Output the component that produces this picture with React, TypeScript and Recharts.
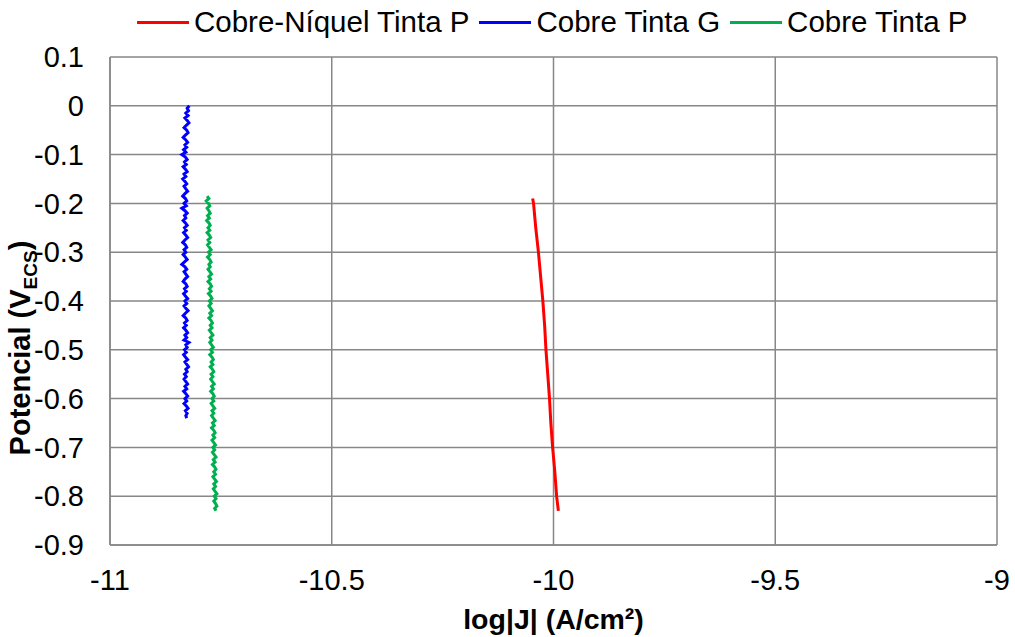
import React from "react";
import {
  LineChart,
  Line,
  XAxis,
  YAxis,
  CartesianGrid,
  Legend,
} from "recharts";

// log|J| values, potentials in V vs ECS
const cuNiY = [-0.19, -0.2, -0.25, -0.3, -0.35, -0.4, -0.45, -0.5, -0.55, -0.6, -0.65, -0.7, -0.75, -0.8, -0.83];
const cuNiX = [-10.047, -10.045, -10.04, -10.034, -10.029, -10.024, -10.02, -10.017, -10.013, -10.009, -10.006, -10.002, -9.997, -9.993, -9.989];

const cuGY = [
  0, -0.005, -0.01, -0.015, -0.02, -0.025, -0.03, -0.035, -0.04, -0.045,
  -0.05, -0.055, -0.06, -0.065, -0.07, -0.075, -0.08, -0.085, -0.09, -0.095,
  -0.1, -0.105, -0.11, -0.115, -0.12, -0.125, -0.13, -0.135, -0.14, -0.145,
  -0.15, -0.155, -0.16, -0.165, -0.17, -0.175, -0.18, -0.185, -0.19, -0.195,
  -0.2, -0.205, -0.21, -0.215, -0.22, -0.225, -0.23, -0.235, -0.24, -0.245,
  -0.25, -0.255, -0.26, -0.265, -0.27, -0.275, -0.28, -0.285, -0.29, -0.295,
  -0.3, -0.305, -0.31, -0.315, -0.32, -0.325, -0.33, -0.335, -0.34, -0.345,
  -0.35, -0.355, -0.36, -0.365, -0.37, -0.375, -0.38, -0.385, -0.39, -0.395,
  -0.4, -0.405, -0.41, -0.415, -0.42, -0.425, -0.43, -0.435, -0.44, -0.445,
  -0.45, -0.455, -0.46, -0.465, -0.47, -0.475, -0.48, -0.485, -0.49, -0.495,
  -0.5, -0.505, -0.51, -0.515, -0.52, -0.525, -0.53, -0.535, -0.54, -0.545,
  -0.55, -0.555, -0.56, -0.565, -0.57, -0.575, -0.58, -0.585, -0.59, -0.595,
  -0.6, -0.605, -0.61, -0.615, -0.62, -0.625, -0.63, -0.635, -0.64,
];
const cuGX = [
  -10.821, -10.826, -10.823, -10.829, -10.824, -10.831, -10.826, -10.822, -10.828, -10.833,
  -10.827, -10.824, -10.83, -10.835, -10.829, -10.825, -10.831, -10.827, -10.834, -10.829,
  -10.838, -10.83, -10.826, -10.832, -10.828, -10.835, -10.83, -10.826, -10.833, -10.829,
  -10.836, -10.831, -10.827, -10.833, -10.829, -10.825, -10.831, -10.836, -10.83, -10.827,
  -10.833, -10.828, -10.838, -10.831, -10.826, -10.832, -10.829, -10.835, -10.83, -10.826,
  -10.832, -10.828, -10.834, -10.829, -10.825, -10.831, -10.836, -10.83, -10.827, -10.833,
  -10.829, -10.835, -10.83, -10.826, -10.832, -10.838, -10.831, -10.827, -10.833, -10.829,
  -10.825, -10.831, -10.835, -10.829, -10.826, -10.832, -10.828, -10.834, -10.83, -10.825,
  -10.831, -10.827, -10.833, -10.829, -10.824, -10.83, -10.835, -10.829, -10.826, -10.832,
  -10.828, -10.834, -10.829, -10.825, -10.831, -10.827, -10.833, -10.822, -10.829, -10.826,
  -10.832, -10.828, -10.834, -10.83, -10.825, -10.831, -10.827, -10.823, -10.829, -10.826,
  -10.832, -10.828, -10.833, -10.829, -10.825, -10.831, -10.827, -10.834, -10.829, -10.825,
  -10.831, -10.827, -10.833, -10.828, -10.824, -10.83, -10.826, -10.829, -10.827,
];

const cuPY = [
  -0.185, -0.19, -0.195, -0.2, -0.205, -0.21, -0.215, -0.22, -0.225, -0.23,
  -0.235, -0.24, -0.245, -0.25, -0.255, -0.26, -0.265, -0.27, -0.275, -0.28,
  -0.285, -0.29, -0.295, -0.3, -0.305, -0.31, -0.315, -0.32, -0.325, -0.33,
  -0.335, -0.34, -0.345, -0.35, -0.355, -0.36, -0.365, -0.37, -0.375, -0.38,
  -0.385, -0.39, -0.395, -0.4, -0.405, -0.41, -0.415, -0.42, -0.425, -0.43,
  -0.435, -0.44, -0.445, -0.45, -0.455, -0.46, -0.465, -0.47, -0.475, -0.48,
  -0.485, -0.49, -0.495, -0.5, -0.505, -0.51, -0.515, -0.52, -0.525, -0.53,
  -0.535, -0.54, -0.545, -0.55, -0.555, -0.56, -0.565, -0.57, -0.575, -0.58,
  -0.585, -0.59, -0.595, -0.6, -0.605, -0.61, -0.615, -0.62, -0.625, -0.63,
  -0.635, -0.64, -0.645, -0.65, -0.655, -0.66, -0.665, -0.67, -0.675, -0.68,
  -0.685, -0.69, -0.695, -0.7, -0.705, -0.71, -0.715, -0.72, -0.725, -0.73,
  -0.735, -0.74, -0.745, -0.75, -0.755, -0.76, -0.765, -0.77, -0.775, -0.78,
  -0.785, -0.79, -0.795, -0.8, -0.805, -0.81, -0.815, -0.82, -0.825, -0.83,
];
const cuPX = [
  -10.781, -10.777, -10.783, -10.778, -10.775, -10.781, -10.777, -10.774, -10.78, -10.776,
  -10.782, -10.777, -10.774, -10.779, -10.775, -10.781, -10.776, -10.773, -10.779, -10.775,
  -10.78, -10.776, -10.772, -10.778, -10.774, -10.78, -10.775, -10.772, -10.777, -10.774,
  -10.779, -10.775, -10.771, -10.777, -10.773, -10.779, -10.774, -10.771, -10.776, -10.772,
  -10.778, -10.773, -10.77, -10.776, -10.772, -10.777, -10.773, -10.769, -10.775, -10.771,
  -10.777, -10.772, -10.769, -10.774, -10.77, -10.776, -10.772, -10.768, -10.774, -10.77,
  -10.775, -10.771, -10.767, -10.773, -10.769, -10.775, -10.77, -10.767, -10.772, -10.768,
  -10.774, -10.769, -10.766, -10.772, -10.768, -10.773, -10.769, -10.765, -10.771, -10.767,
  -10.773, -10.768, -10.765, -10.77, -10.766, -10.772, -10.768, -10.764, -10.77, -10.766,
  -10.771, -10.767, -10.763, -10.769, -10.765, -10.771, -10.766, -10.763, -10.768, -10.764,
  -10.77, -10.766, -10.762, -10.768, -10.764, -10.769, -10.765, -10.761, -10.767, -10.763,
  -10.769, -10.764, -10.761, -10.766, -10.762, -10.768, -10.764, -10.76, -10.766, -10.762,
  -10.767, -10.763, -10.759, -10.765, -10.761, -10.766, -10.762, -10.759, -10.764, -10.761,
];

const xTicks = [-11, -10.5, -10, -9.5, -9];
const yTicks = [0.1, 0, -0.1, -0.2, -0.3, -0.4, -0.5, -0.6, -0.7, -0.8, -0.9];

const series = [
  { name: "Cobre-Níquel Tinta P", color: "#ff0000", xs: cuNiX, ys: cuNiY, w: 3 },
  { name: "Cobre Tinta G", color: "#0000ff", xs: cuGX, ys: cuGY, w: 3 },
  { name: "Cobre Tinta P", color: "#00b050", xs: cuPX, ys: cuPY, w: 3 },
];

const FONT = "'Liberation Sans', Arial, sans-serif";
const GRID = "#878787";

function toPoints(xs: number[], ys: number[]) {
  return xs.map((x, i) => ({ x, y: ys[i] }));
}

function fmt(v: number) {
  const r = Math.round(v * 10) / 10;
  return r === 0 ? "0" : String(r);
}

const LegendContent = () => (
  <div
    style={{
      display: "flex",
      alignItems: "center",
      height: 40,
      fontFamily: FONT,
      fontSize: 29.5,
      color: "#000",
      whiteSpace: "nowrap",
    }}
  >
    {series.map((s) => (
      <div key={s.name} style={{ display: "flex", alignItems: "center", marginRight: 10 }}>
        <div style={{ width: 52, height: 3, background: s.color, marginRight: 5 }} />
        <span>{s.name}</span>
      </div>
    ))}
  </div>
);

// Rotated y title with subscript ECS
const YTitle = () => (
  <text
    transform="translate(30, 348) rotate(-90)"
    textAnchor="middle"
    fontFamily={FONT}
    fontWeight="bold"
    fontSize={29}
    fill="#000"
  >
    Potencial (V
    <tspan fontSize={19} dy={7}>ECS</tspan>
    <tspan dy={-7}>)</tspan>
  </text>
);

export default function App() {
  return (
    <div style={{ position: "absolute", left: 0, top: 0, background: "#fff" }}>
      <LineChart
        width={1015}
        height={637}
        margin={{ top: 17, right: 18, left: 0, bottom: 0 }}
      >
        <CartesianGrid stroke={GRID} strokeWidth={1.5} />
        <XAxis
          type="number"
          dataKey="x"
          domain={[-11, -9]}
          ticks={xTicks}
          allowDataOverflow
          height={92}
          tickSize={0}
          tickMargin={24}
          axisLine={{ stroke: GRID, strokeWidth: 1.5 }}
          tick={{ fill: "#000", fontSize: 29, fontFamily: FONT }}
          label={{
            value: "log|J| (A/cm²)",
            position: "insideBottom",
            offset: 8,
            fill: "#000",
            fontSize: 28.5,
            fontWeight: "bold",
            fontFamily: FONT,
          }}
        />
        <YAxis
          type="number"
          dataKey="y"
          domain={[-0.9, 0.1]}
          ticks={yTicks}
          allowDataOverflow
          width={110}
          tickSize={0}
          tickMargin={26}
          tickFormatter={fmt}
          axisLine={{ stroke: GRID, strokeWidth: 1.5 }}
          tick={{ fill: "#000", fontSize: 29, fontFamily: FONT }}
          label={{ content: () => <YTitle /> }}
        />
        <Legend
          verticalAlign="top"
          content={() => <LegendContent />}
          wrapperStyle={{ top: 2, left: 137, width: 878 }}
        />
        {series.map((s) => (
          <Line
            key={s.name}
            name={s.name}
            data={toPoints(s.xs, s.ys)}
            dataKey="y"
            stroke={s.color}
            strokeWidth={s.w}
            dot={false}
            activeDot={false}
            isAnimationActive={false}
          />
        ))}
      </LineChart>
    </div>
  );
}
